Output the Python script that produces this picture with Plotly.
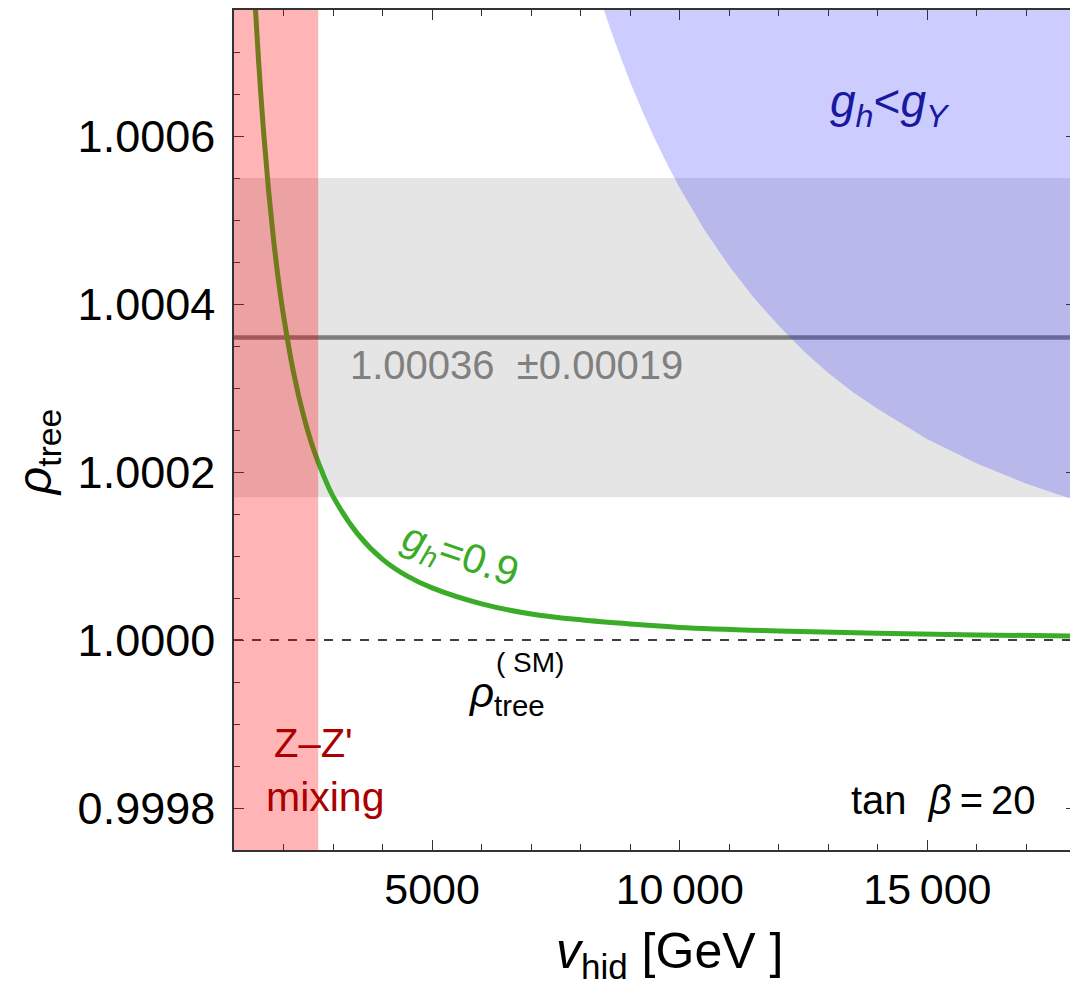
import plotly.graph_objects as go

# ---- data ----
v_curve = [1430, 1500, 1600, 1700, 1800, 1900, 2000, 2200, 2400, 2600, 2800, 3000,
           3500, 4000, 4500, 5000, 6000, 7000, 8000, 9000, 10000, 12000, 14000, 16000, 18000]
rho_curve = [1.000754, 1.000686, 1.000603, 1.000534, 1.000476, 1.000427, 1.000386,
             1.000319, 1.000268, 1.000228, 1.000197, 1.000171, 1.000126, 1.000096,
             1.000076, 1.000062, 1.000043, 1.000031, 1.000024, 1.000019, 1.000015,
             1.0000107, 1.0000079, 1.0000060, 1.0000048]

v_bound = [8470, 8600, 8800, 9000, 9250, 9500, 9750, 10000, 10500, 11000, 11500, 12000,
           12500, 13000, 13500, 14000, 15000, 16000, 17000, 18000]
rho_bound = [1.000750, 1.000727, 1.000695, 1.000664, 1.000629, 1.000596, 1.000566,
             1.000538, 1.000488, 1.000445, 1.000407, 1.000374, 1.000344, 1.000318,
             1.000295, 1.000275, 1.000239, 1.000210, 1.000186, 1.000166]

rho_exp = 1.00036
rho_err = 0.00019
rho_sm = 1.0
mixing_limit = 2700

x_range = [1000, 18000]
y_range = [0.99975, 1.00075]
x_tickvals = [5000, 10000, 15000]
x_ticktext = ["5000", "10\u2009000", "15\u2009000"]
y_tickvals = [0.9998, 1.0, 1.0002, 1.0004, 1.0006]
y_ticktext = ["0.9998", "1.0000", "1.0002", "1.0004", "1.0006"]

FONT = "Liberation Sans, Arial, Helvetica, sans-serif"
OFF = 8  # page body margin
W, H = 1070, 980
L, R, T, B = 226, 1, 0, 138
pw, ph = W - L - R, H - T - B


def px(x):  # screen pixel -> paper
    return (x - OFF - L) / pw


def py(y):
    return (H - B - (y - OFF)) / ph


fig = go.Figure()

# green curve g_h = 0.9
fig.add_trace(go.Scatter(x=v_curve, y=rho_curve, mode="lines",
                         line=dict(color="rgb(58,172,40)", width=5, shape="spline"),
                         hoverinfo="skip", showlegend=False))

# blue excluded region g_h < g_Y
bx = v_bound + [x_range[1], v_bound[0]]
by = rho_bound + [y_range[1], y_range[1]]
fig.add_trace(go.Scatter(x=bx, y=by, mode="lines", fill="toself",
                         fillcolor="rgba(40,40,255,0.24)",
                         line=dict(width=0, color="rgba(0,0,0,0)"),
                         hoverinfo="skip", showlegend=False))

# gray measurement band and central value
fig.add_shape(type="rect", xref="x", yref="y", x0=x_range[0], x1=x_range[1],
              y0=rho_exp - rho_err, y1=rho_exp + rho_err,
              fillcolor="rgba(0,0,0,0.1)", line=dict(width=0), layer="below")
fig.add_shape(type="line", xref="x", yref="y", x0=x_range[0], x1=x_range[1],
              y0=rho_exp, y1=rho_exp, line=dict(color="rgb(125,125,125)", width=4.5), layer="below")
# SM dashed line
fig.add_shape(type="line", xref="x", yref="y", x0=x_range[0], x1=x_range[1],
              y0=rho_sm, y1=rho_sm, line=dict(color="black", width=1.3, dash="dash"), layer="below")
# red Z-Z' mixing band
fig.add_shape(type="rect", xref="x", yref="paper", x0=x_range[0], x1=mixing_limit,
              y0=0, y1=1, fillcolor="rgba(255,0,0,0.29)", line=dict(width=0), layer="above")

ann = []


def A(text, x, y, size, color="black", angle=0, xanchor="center"):
    ann.append(dict(text=text, x=px(x), y=py(y), xref="paper", yref="paper",
                    showarrow=False, font=dict(family=FONT, size=size, color=color),
                    textangle=angle, xanchor=xanchor, yanchor="middle"))


A("<i>g</i><sub><i>h</i></sub>&lt;<i>g</i><sub><i>Y</i></sub>", 891, 103, 46, "rgb(25,25,160)")
A("1.00036  \u00b10.00019", 517, 364, 40, "rgb(128,128,128)")
A("<i>g</i><sub><i>h</i></sub>=0.9", 460, 556, 41, "rgb(58,172,40)", angle=19)
A("( SM)", 530, 662, 28)
A("<i>ρ</i><sub>tree</sub>", 507, 695, 42)
A("Z\u2013Z'", 314, 743, 40, "rgb(170,0,0)")
A("mixing", 325, 797, 41, "rgb(170,0,0)")
A("tan  <i>β</i>\u2009=\u200920", 944, 800, 40)
A("<i>v</i><sub>hid</sub> [GeV ]", 670, 955, 50)
A("<i>ρ</i><sub>tree</sub>", 38, 452, 48, angle=-90)

fig.update_layout(
    width=W, height=H,
    margin=dict(l=L, r=R, t=T, b=B, pad=0),
    paper_bgcolor="white", plot_bgcolor="white",
    font=dict(family=FONT, color="black"),
    annotations=ann,
    showlegend=False,
)
fig.update_xaxes(range=x_range, tickvals=x_tickvals, ticktext=x_ticktext,
                 ticks="inside", ticklen=10, tickwidth=1.3, tickcolor="#333",
                 minor=dict(tick0=0, dtick=1000, ticks="inside", ticklen=6, tickwidth=1.1, tickcolor="#333"),
                 showline=True, linecolor="#333", linewidth=1.5, mirror="allticks",
                 showgrid=False, zeroline=False,
                 tickfont=dict(size=43, family=FONT, color="black"), ticklabelstandoff=1)
fig.update_yaxes(range=y_range, tickvals=y_tickvals, ticktext=y_ticktext,
                 ticks="inside", ticklen=10, tickwidth=1.3, tickcolor="#333",
                 minor=dict(tick0=0.9998, dtick=0.00005, ticks="inside", ticklen=6, tickwidth=1.1, tickcolor="#333"),
                 showline=True, linecolor="#333", linewidth=1.5, mirror="allticks",
                 showgrid=False, zeroline=False,
                 tickfont=dict(size=45, family=FONT, color="black"), ticklabelstandoff=8)

fig.write_html("out.html")
